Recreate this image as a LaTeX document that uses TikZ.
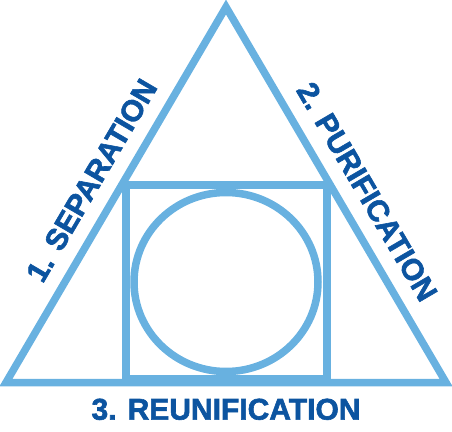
\documentclass[tikz,border=0pt]{standalone}
\usepackage{fontspec}
\setmainfont{Liberation Sans}
\newfontfamily\stagefont{Liberation Sans Bold}[FakeBold=2]
\usepackage{xcolor}
\usepackage{tikz}
\usetikzlibrary{positioning,calc}
\definecolor{lineblue}{RGB}{104,177,224}
\definecolor{textblue}{RGB}{12,84,160}

\begin{document}
\begin{tikzpicture}[x=1pt,y=-1pt,
    frame/.style={draw=lineblue, line width=7.5pt, line join=miter},
    stage/.style={text=textblue, font=\stagefont\fontsize{30}{30}\selectfont, inner sep=0pt}]
    \useasboundingbox (0,0) rectangle (452,431);

    % Corners
    \coordinate (L) at (6,382.5);
    \coordinate (T) at (226,7);
    \coordinate (R) at (446,382.5);
    \coordinate (B) at (226,382.5);

    % Square
    \draw[frame, line width=8pt] (125.5,185) rectangle (326.5,379);

    % Circle
    \draw[frame] (226,282) ellipse [x radius=92, y radius=89.5];

    % Triangle
    \draw[frame] (L) -- node[stage, sloped, above=14pt, pos=0.5] (sep) {1. SEPARATION}
        (T) -- node[stage, sloped, above=14pt, pos=0.53] (pur) {2. PURIFICATION}
        (R) -- cycle;

    % Base label
    \node[stage, below=16pt of B] (reu) {3. REUNIFICATION};
\end{tikzpicture}
\end{document}
